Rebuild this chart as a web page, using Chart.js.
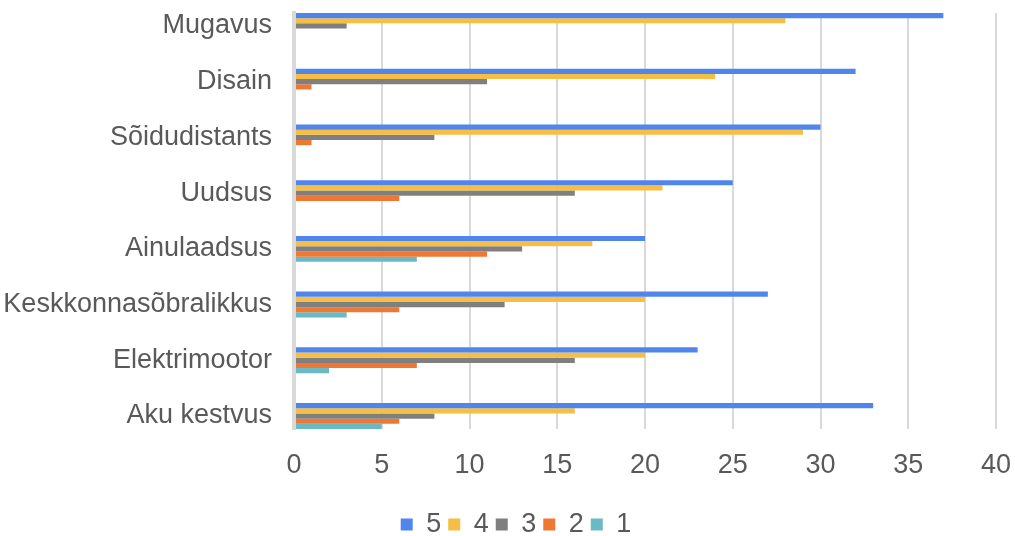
<!DOCTYPE html>
<html>
<head>
<meta charset="utf-8">
<script src="https://cdn.jsdelivr.net/npm/chart.js@4.4.1/dist/chart.umd.min.js"></script>
<style>
  html, body { margin: 0; padding: 0; background: #fff; }
  #wrap { width: 1015px; height: 536px; position: relative; }
</style>
</head>
<body>
<div id="wrap"><canvas id="ratings"></canvas></div>
<script>
// ratings per feature, top to bottom
const features = ['Mugavus', 'Disain', 'Sõidudistants', 'Uudsus', 'Ainulaadsus',
  'Keskkonnasõbralikkus', 'Elektrimootor', 'Aku kestvus'];
const score5 = [37, 32, 30, 25, 20, 27, 23, 33];
const score4 = [28, 24, 29, 21, 17, 20, 20, 16];
const score3 = [3, 11, 8, 16, 13, 12, 16, 8];
const score2 = [0, 1, 1, 6, 11, 6, 7, 6];
const score1 = [0, 0, 0, 0, 7, 3, 2, 5];
const xTicks = { min: 0, max: 40, step: 5 };

Chart.defaults.font.family = '"Liberation Sans", Arial, Helvetica, sans-serif';
Chart.defaults.font.size = 27;
Chart.defaults.color = '#595959';

const series = [
  { label: '5', values: score5, color: '#5086EC' },
  { label: '4', values: score4, color: '#F6BE44' },
  { label: '3', values: score3, color: '#7F7F7F' },
  { label: '2', values: score2, color: '#EE7733' },
  { label: '1', values: score1, color: '#69BAC5' },
];

// y is linear (index units) so the outer groups sit flush with the plot edges
const half = 0.2327;

// nudge the legend row right/down
const legendShift = {
  id: 'legendShift',
  afterLayout(chart) {
    const lg = chart.legend;
    if (!lg) return;
    lg.left += 18; lg.right += 18;
    lg.top += 12; lg.bottom += 12;
  },
};

new Chart(document.getElementById('ratings'), {
  type: 'bar',
  plugins: [legendShift],
  data: {
    datasets: series.map(s => ({
      label: s.label,
      data: s.values.map((v, i) => ({ x: v, y: i })),
      backgroundColor: s.color,
      borderWidth: 0,
      categoryPercentage: 0.4654,
      barPercentage: 1,
    })),
  },
  options: {
    indexAxis: 'y',
    responsive: true,
    maintainAspectRatio: false,
    animation: false,
    layout: { padding: { top: 13, right: 19, left: 0, bottom: 0 } },
    plugins: {
      tooltip: { enabled: false },
      legend: {
        position: 'bottom',
        labels: { boxWidth: 12, boxHeight: 12, padding: 7, color: '#595959' },
      },
    },
    scales: {
      x: {
        type: 'linear',
        min: xTicks.min,
        max: xTicks.max,
        ticks: { stepSize: xTicks.step, padding: 20, color: '#595959' },
        grid: { color: '#D9D9D9', lineWidth: 2, drawTicks: false },
        border: { display: false },
        afterFit: s => { s.height = 63; s.paddingLeft = 0; s.paddingRight = 0; },
      },
      y: {
        type: 'linear',
        reverse: true,
        offset: false,
        min: -half,
        max: features.length - 1 + half,
        afterBuildTicks: s => { s.ticks = s.ticks.filter(t => Number.isInteger(t.value)); },
        ticks: {
          stepSize: 1,
          includeBounds: false,
          autoSkip: false,
          padding: 22,
          color: '#595959',
          callback: v => features[v],
        },
        grid: { display: false, drawTicks: false, offset: false },
        // axis line drawn over the bar starts
        border: { display: true, color: '#D9D9D9', width: 4, z: 1 },
        afterFit: s => { s.width = 294; s.paddingTop = 0; s.paddingBottom = 0; },
      },
    },
  },
});
</script>
</body>
</html>
